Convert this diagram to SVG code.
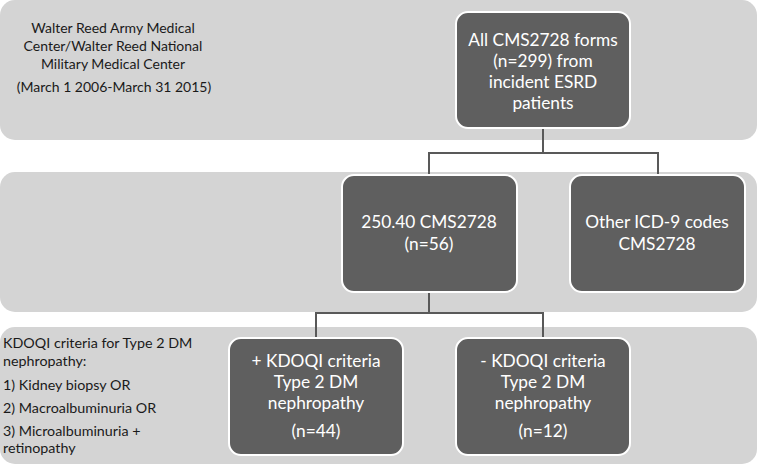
<svg xmlns="http://www.w3.org/2000/svg" width="760" height="467" viewBox="0 0 760 467">
<style>
.band{fill:#d4d4d4}
.node rect{fill:#5f5f5f;stroke:#ffffff;stroke-width:2}
.node text{fill:#ffffff;font-family:Lato,"Liberation Sans",sans-serif;font-size:17.3px;text-anchor:middle}
.lbl{fill:#1a1a1a;font-family:Lato,"Liberation Sans",sans-serif}
.conn path{fill:none;stroke:#595959;stroke-width:2}
</style>
<rect class="band" x="0" y="0" width="757" height="140" rx="15"/>
<rect class="band" x="0" y="172" width="757" height="140" rx="15"/>
<rect class="band" x="0" y="327" width="757" height="137" rx="15"/>
<g id="site-label" class="lbl" font-size="14" text-anchor="middle">
<text x="113" y="33">Walter Reed Army Medical</text>
<text x="113" y="51">Center/Walter Reed National</text>
<text x="113" y="69">Military Medical Center</text>
<text x="114" y="92">(March 1 2006-March 31 2015)</text>
</g>
<g id="criteria-label" class="lbl" font-size="14.3">
<text x="3" y="348">KDOQI criteria for Type 2 DM</text>
<text x="3" y="366">nephropathy:</text>
<text x="3" y="390">1) Kidney biopsy OR</text>
<text x="3" y="413">2) Macroalbuminuria OR</text>
<text x="3" y="436">3) Microalbuminuria +</text>
<text x="3" y="453">retinopathy</text>
</g>
<g id="connectors" class="conn">
<path d="M543 128V153M429 175V153H658V175"/>
<path d="M429 292V313M316 338V313H543V338"/>
</g>
<g id="all-forms" class="node">
<rect x="456" y="12" width="174" height="116" rx="12"/>
<text x="543" y="46">All CMS2728 forms</text>
<text x="543" y="67">(n=299) from</text>
<text x="543" y="88">incident ESRD</text>
<text x="543" y="109">patients</text>
</g>
<g id="code-250" class="node">
<rect x="342" y="175" width="175" height="117" rx="12"/>
<text x="429" y="228">250.40 CMS2728</text>
<text x="429" y="250">(n=56)</text>
</g>
<g id="other-codes" class="node">
<rect x="570" y="175" width="175" height="117" rx="12"/>
<text x="657" y="228">Other ICD-9 codes</text>
<text x="657" y="250">CMS2728</text>
</g>
<g id="kdoqi-pos" class="node">
<rect x="229" y="338" width="174" height="117" rx="12"/>
<text x="316" y="367">+ KDOQI criteria</text>
<text x="316" y="388">Type 2 DM</text>
<text x="316" y="409">nephropathy</text>
<text x="316" y="437">(n=44)</text>
</g>
<g id="kdoqi-neg" class="node">
<rect x="456" y="338" width="174" height="117" rx="12"/>
<text x="543" y="367">- KDOQI criteria</text>
<text x="543" y="388">Type 2 DM</text>
<text x="543" y="409">nephropathy</text>
<text x="543" y="437">(n=12)</text>
</g>
</svg>
